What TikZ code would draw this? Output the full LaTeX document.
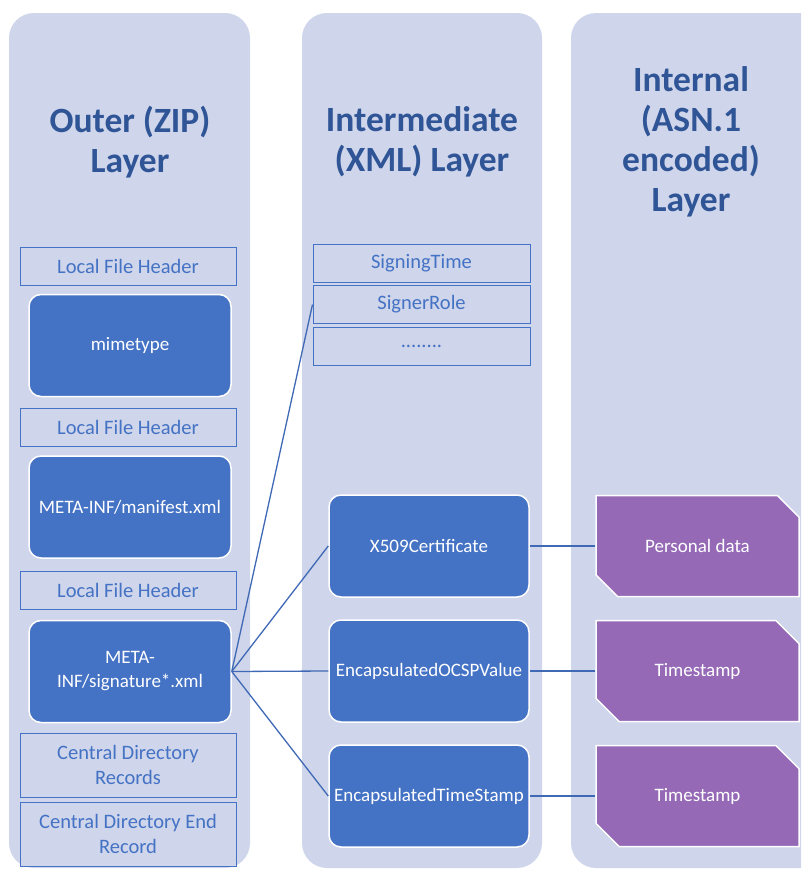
\documentclass[tikz,border=0pt]{standalone}
\usepackage{fontspec}
\setmainfont{Carlito}
\usetikzlibrary{shapes.misc}
\definecolor{colbg}{HTML}{CFD5EA}
\definecolor{boxblue}{HTML}{4472C4}
\definecolor{linkblue}{HTML}{3F68B5}
\definecolor{titleblue}{HTML}{2F5597}
\definecolor{purp}{HTML}{9569B6}
\begin{document}
\begin{tikzpicture}[x=1pt,y=-1pt,
  title/.style={text=titleblue, font=\fontsize{35.5}{40}\selectfont\bfseries, align=center},
  hdr/.style={draw=boxblue, line width=1pt, fill=colbg, text=boxblue, minimum width=216pt, minimum height=38pt, inner sep=0pt, font=\fontsize{20.5}{25}\selectfont, align=center},
  blk/.style={fill=boxblue, draw=white, line width=1.5pt, rounded corners=12pt, text=white, minimum width=202pt, minimum height=102pt, inner sep=0pt, font=\fontsize{19}{24}\selectfont, align=center},
  snip/.style={chamfered rectangle, chamfered rectangle corners={north east, south west}, chamfered rectangle xsep=15pt, chamfered rectangle ysep=15pt, fill=purp, draw=white, line width=1.5pt, text=white, minimum width=203pt, minimum height=101pt, inner sep=0pt, font=\fontsize{19}{24}\selectfont},
  link/.style={draw=linkblue, line width=1.3pt}]
\useasboundingbox (0,0) rectangle (801,870);
\clip (0,0) rectangle (801,870);
% columns
\fill[colbg, rounded corners=25pt] (9,13) rectangle (250,868);
\fill[colbg, rounded corners=25pt] (302,13) rectangle (542,868);
\fill[colbg, rounded corners=25pt] (571,13) rectangle (830,868);
% titles
\node[title] (t1) at (130,142) {Outer (ZIP)\\Layer};
\node[title] (t2) at (422,142) {Intermediate\\(XML) Layer};
\node[title] (t3) at (691,142) {Internal\\(ASN.1\\encoded)\\Layer};
% left column
\node[hdr] (lfh1) at (128,266) {Local File Header};
\node[blk] (mime) at (130,345.5) {mimetype};
\node[hdr] (lfh2) at (128,427.5) {Local File Header};
\node[blk] (man) at (130,507) {META-INF/manifest.xml};
\node[hdr] (lfh3) at (128,590.5) {Local File Header};
\node[blk] (sig) at (130,671.5) {META-\\INF/signature*.xml};
\node[hdr, minimum height=64pt] (cdr) at (128,765) {Central Directory\\Records};
\node[hdr, minimum height=64pt] (cde) at (128,834) {Central Directory End\\Record};
% middle column
\node[hdr, minimum width=217pt] (st) at (421.5,263) {SigningTime};
\node[hdr, minimum width=217pt] (sr) at (421.5,304.5) {SignerRole};
\node[hdr, minimum width=217pt] (dots) at (421.5,346) {........};
\node[blk, minimum width=200pt] (x509) at (429,546) {X509Certificate};
\node[blk, minimum width=200pt] (ocsp) at (429,671) {EncapsulatedOCSPValue};
\node[blk, minimum width=200pt] (ts) at (429,796) {EncapsulatedTimeStamp};
% right column
\node[snip] (pd) at (697.5,546) {Personal data};
\node[snip] (tsa) at (697.5,671) {Timestamp};
\node[snip] (tsb) at (697.5,796) {Timestamp};
% connectors
\draw[link] (sig.east) -- (sr.west);
\draw[link] (sig.east) -- (x509.west);
\draw[link] (sig.east) -- (ocsp.west);
\draw[link] (sig.east) -- (ts.west);
\draw[link] (x509.east) -- (pd.west);
\draw[link] (ocsp.east) -- (tsa.west);
\draw[link] (ts.east) -- (tsb.west);
\end{tikzpicture}
\end{document}
